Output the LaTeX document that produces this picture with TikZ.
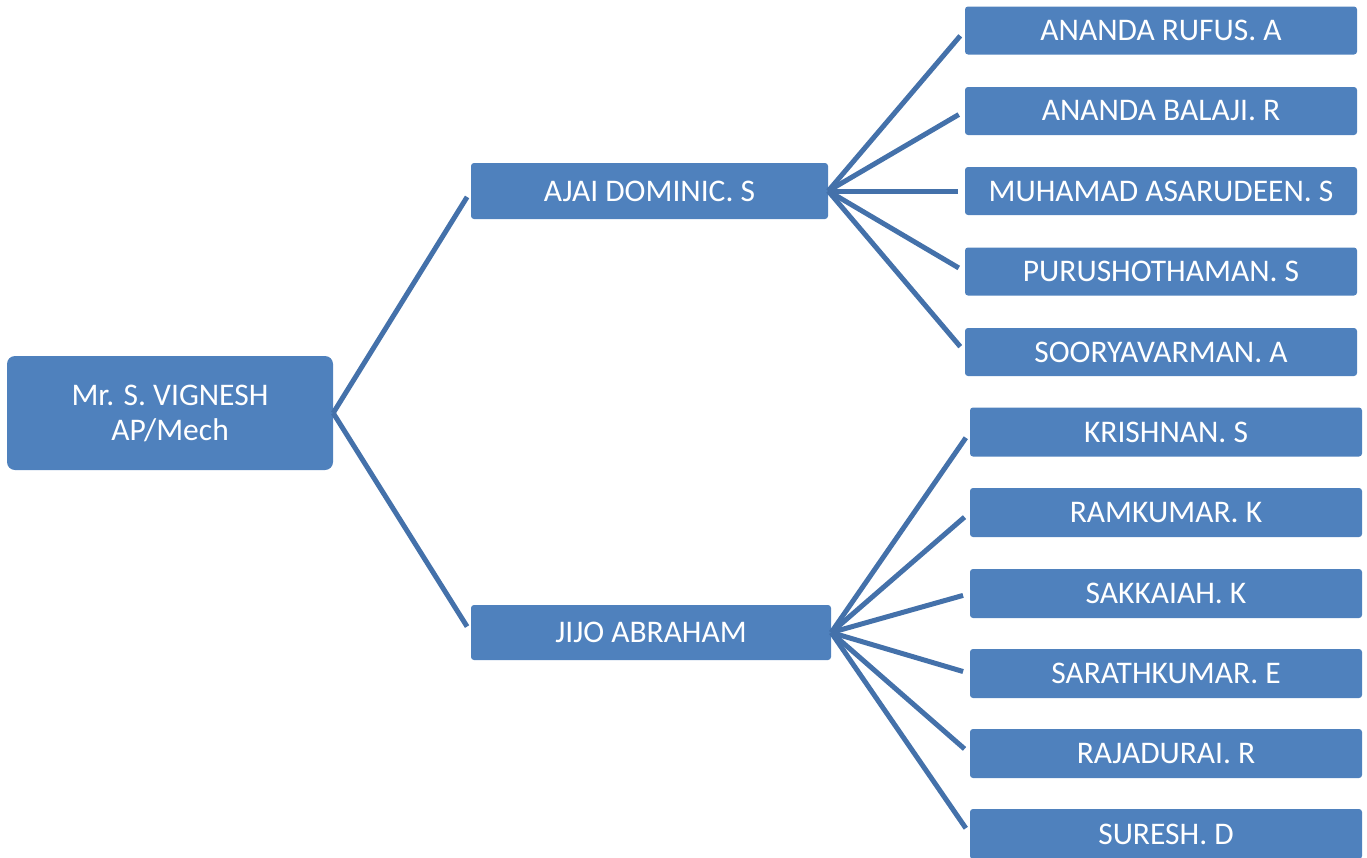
\documentclass[tikz,border=0pt]{standalone}
\usepackage{fontspec}
\setmainfont{Carlito}
\definecolor{boxblue}{HTML}{4F81BD}
\definecolor{lineblue}{HTML}{4471AA}
\begin{document}
\begin{tikzpicture}[x=1pt,y=-1pt,
  box/.style={fill=boxblue, draw=none, text=white, inner sep=0pt, align=center,
    font=\fontsize{31.5}{35}\selectfont, rounded corners=3pt},
  link/.style={draw=lineblue, line width=5pt, shorten >=7pt}]
\useasboundingbox (0,0) rectangle (1367,857);
\begin{scope}
\clip (0,0) rectangle (1367,857);
\node[box, rounded corners=8pt, minimum width=326pt, minimum height=114pt] (root) at (170,413) {Mr. S. VIGNESH\\AP/Mech};
\node[box, minimum width=357pt, minimum height=56pt] (ajai) at (649.5,191) {AJAI DOMINIC. S};
\node[box, minimum width=360pt, minimum height=55pt] (jijo) at (651,632.5) {JIJO ABRAHAM};

\node[box, minimum width=392pt, minimum height=48pt] (a1) at (1161,30.5) {ANANDA RUFUS. A};
\node[box, minimum width=392pt, minimum height=48pt] (a2) at (1161,111) {ANANDA BALAJI. R};
\node[box, minimum width=392pt, minimum height=48pt] (a3) at (1161,191) {MUHAMAD ASARUDEEN. S};
\node[box, minimum width=392pt, minimum height=48pt] (a4) at (1161,271.5) {PURUSHOTHAMAN. S};
\node[box, minimum width=392pt, minimum height=48pt] (a5) at (1161,352) {SOORYAVARMAN. A};

\node[box, minimum width=392pt, minimum height=49pt] (b1) at (1166,432) {KRISHNAN. S};
\node[box, minimum width=392pt, minimum height=49pt] (b2) at (1166,512.5) {RAMKUMAR. K};
\node[box, minimum width=392pt, minimum height=49pt] (b3) at (1166,593.5) {SAKKAIAH. K};
\node[box, minimum width=392pt, minimum height=49pt] (b4) at (1166,673.5) {SARATHKUMAR. E};
\node[box, minimum width=392pt, minimum height=49pt] (b5) at (1166,753.5) {RAJADURAI. R};
\node[box, minimum width=392pt, minimum height=50pt] (b6) at (1166,834) {SURESH. D};
\end{scope}

\draw[link] (root.east) -- (ajai.west);
\draw[link] (root.east) -- (jijo.west);
\foreach \c in {a1,a2,a3,a4,a5}{\draw[link] (ajai.east) -- (\c.west);}
\foreach \c in {b1,b2,b3,b4,b5,b6}{\draw[link] (jijo.east) -- (\c.west);}
\end{tikzpicture}
\end{document}
